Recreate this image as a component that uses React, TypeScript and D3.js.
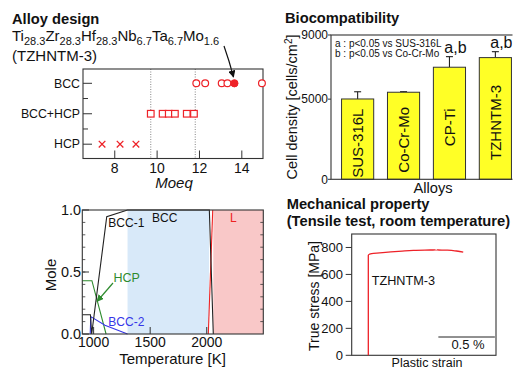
import React from "react";
import * as d3 from "d3";

const FONT = "'Liberation Sans', Arial, Helvetica, sans-serif";
const RED = "#ee2228";
const INK = "#333";

// ---------- Alloy design ----------
const phaseLevels = ["HCP", "BCC+HCP", "BCC"];
const moeqTicks = [8, 10, 12, 14];
const moeqBoundaries = [9.7, 11.8];
const hcpMoeq = [7.4, 8.25, 9.0];
const dualMoeq = [9.7, 10.26, 10.55, 10.84, 11.4, 11.74];
const bccMoeq = [11.85, 12.27, 13.05, 13.32, 14.95];
const selectedMoeq = 13.65;
const formulaElements = ["Ti", "Zr", "Hf", "Nb", "Ta", "Mo"];
const formulaSubs = ["28.3", "28.3", "28.3", "6.7", "6.7", "1.6"];

// ---------- Biocompatibility ----------
const alloys = ["SUS-316L", "Co-Cr-Mo", "CP-Ti", "TZHNTM-3"];
const cellDensity = [5010, 5430, 6990, 7590];
const cellDensityErr = [450, 35, 660, 370];
const significance = ["", "", "a,b", "a,b"];
const cellTicks = [0, 5000, 9000];
const legendLines = ["a : p<0.05 vs SUS-316L", "b : p<0.05 vs Co-Cr-Mo"];

// ---------- Phase diagram ----------
const tempTicks = [1000, 1500, 2000];
const moleTicks = [0, 0.5, 1.0];
const bccRegion = [1300, 2020];
const liquidRegion = [2058, 2500];
const bcc1T = [900, 972, 983, 1116, 1300, 2023, 2058];
const bcc1M = [0.155, 0.155, 0.0, 0.946, 1.0, 1.0, 0.0];
const hcpT = [900, 985, 1110];
const hcpM = [0.43, 0.43, 0.0];
const bcc2T = [970, 975, 1100, 1300];
const bcc2M = [0.0, 0.14, 0.07, 0.0];
const liquidT = [2014, 2053];
const liquidM = [0.0, 1.0];

// ---------- Tensile ----------
const stressTicks = [0, 200, 400, 600, 800];
const strainPct = [0, 0, 0.01, 0.03, 0.1, 0.2, 0.3, 0.4, 0.5, 0.6, 0.7, 0.78, 0.84];
const trueStress = [0, 742, 750, 755, 760, 767, 773, 778, 781, 782, 780, 774, 766];
const scaleBar = [0.62, 1.12];

export default function App() {
  // Alloy design scales
  const ax = d3.scaleLinear().domain([6.5, 15]).range([83, 263]);
  const ay = d3.scaleLinear().domain([-0.47, 2.47]).range([158.5, 69]);
  const lvl = (name: string) => ay(phaseLevels.indexOf(name));

  // Bio scales
  const bx = d3.scaleBand<string>().domain(alloys).range([331, 522]).paddingInner(0.3).paddingOuter(0.23);
  const by = d3.scaleLinear().domain([0, 9000]).range([179.3, 35]);

  // Phase scales
  const px = d3.scaleLinear().domain([900, 2500]).range([82.3, 263.3]);
  const py = d3.scaleLinear().domain([0, 1]).range([334, 210]);
  const pline = d3
    .line<[number, number]>()
    .x((d) => px(d[0]))
    .y((d) => py(d[1]));
  const zip = (a: number[], b: number[]) => a.map((v, i) => [v, b[i]] as [number, number]);

  // Tensile scales
  const tx = d3.scaleLinear().domain([-0.147, 1.13]).range([351.7, 496]);
  const ty = d3.scaleLinear().domain([0, 900]).range([355.3, 234]);
  const tline = d3
    .line<[number, number]>()
    .x((d) => tx(d[0]))
    .y((d) => ty(d[1]))
    .curve(d3.curveMonotoneY);
  const tensile = zip(strainPct, trueStress);

  const cross = (cx: number, cy: number, s: number) =>
    `M${cx - s},${cy - s}L${cx + s},${cy + s}M${cx - s},${cy + s}L${cx + s},${cy - s}`;

  return (
    <svg
      width={513}
      height={369}
      style={{ position: "absolute", left: 0, top: 0, background: "#fff" }}
      fontFamily={FONT}
    >
      <defs>
        <marker id="ahBlack" viewBox="0 0 10 10" refX="9" refY="5" markerWidth="6" markerHeight="6" orient="auto">
          <path d="M0,0L10,5L0,10z" fill="#111" />
        </marker>
        <marker id="ahGreen" viewBox="0 0 10 10" refX="9" refY="5" markerWidth="6" markerHeight="6" orient="auto">
          <path d="M0,0L10,5L0,10z" fill="#2e8b2e" />
        </marker>
        <clipPath id="bioClip">
          <rect x={0} y={0} width={512.5} height={369} />
        </clipPath>
      </defs>

      {/* ================= Alloy design ================= */}
      <text x={12} y={24} fontSize={14.7} fontWeight="bold" fill="#111">
        Alloy design
      </text>
      <text x={12} y={41} fontSize={15} fill="#111">
        {formulaElements.map((el, i) => (
          <React.Fragment key={el}>
            <tspan dy={i === 0 ? 0 : -4} fontSize={15}>
              {el}
            </tspan>
            <tspan dy={4} fontSize={11}>
              {formulaSubs[i]}
            </tspan>
          </React.Fragment>
        ))}
      </text>
      <text x={12} y={61} fontSize={15} fill="#111">
        (TZHNTM-3)
      </text>
      <path d="M224,46 Q229,60 233.5,77" fill="none" stroke="#111" strokeWidth={1.2} markerEnd="url(#ahBlack)" />

      {moeqBoundaries.map((b) => (
        <line key={b} x1={ax(b)} x2={ax(b)} y1={69} y2={158.5} stroke="#777" strokeWidth={0.9} strokeDasharray="1,1.5" />
      ))}
      <rect x={83} y={69} width={180} height={89.5} fill="none" stroke={INK} strokeWidth={1.1} />
      {[0, 1, 2].map((v) => (
        <line key={v} x1={83} x2={92} y1={ay(v)} y2={ay(v)} stroke={INK} strokeWidth={1} />
      ))}
      {[0.5, 1.5].map((v) => (
        <line key={v} x1={83} x2={88} y1={ay(v)} y2={ay(v)} stroke={INK} strokeWidth={1} />
      ))}
      {phaseLevels.map((p, i) => (
        <text key={p} x={80} y={ay(i) + 4.3} fontSize={12.3} textAnchor="end" fill="#111">
          {p}
        </text>
      ))}
      {moeqTicks.map((t) => (
        <g key={t}>
          <line x1={ax(t)} x2={ax(t)} y1={158.5} y2={150.5} stroke={INK} strokeWidth={1} />
          <text x={ax(t)} y={172.5} fontSize={14} textAnchor="middle" fill="#111">
            {t}
          </text>
        </g>
      ))}
      <text x={ax(10.8)} y={188} fontSize={15} fontStyle="italic" textAnchor="middle" fill="#111">
        Moeq
      </text>
      {hcpMoeq.map((v, i) => (
        <path key={i} d={cross(ax(v), lvl("HCP"), 3.3)} stroke={RED} strokeWidth={1.3} fill="none" />
      ))}
      {dualMoeq.map((v, i) => (
        <rect key={i} x={ax(v) - 3.3} y={lvl("BCC+HCP") - 3.3} width={6.6} height={6.6} fill="#fff" stroke={RED} strokeWidth={1.2} />
      ))}
      {bccMoeq.map((v, i) => (
        <circle key={i} cx={ax(v)} cy={lvl("BCC")} r={3.4} fill="#fff" stroke={RED} strokeWidth={1.2} />
      ))}
      <circle cx={ax(selectedMoeq)} cy={lvl("BCC")} r={3.6} fill={RED} stroke={RED} strokeWidth={1} />

      {/* ================= Biocompatibility ================= */}
      <text x={285} y={23.3} fontSize={14.7} fontWeight="bold" fill="#111">
        Biocompatibility
      </text>
      <g clipPath="url(#bioClip)">
        {alloys.map((a, i) => {
          const x0 = bx(a) as number;
          const w = bx.bandwidth();
          const top = by(cellDensity[i]);
          const errTop = by(cellDensity[i] + cellDensityErr[i]);
          const cx = x0 + w / 2;
          const midY = (top + by(0)) / 2 + 4;
          return (
            <g key={a}>
              <line x1={cx} x2={cx} y1={top} y2={errTop} stroke="#222" strokeWidth={1.1} />
              <line x1={cx - 3.5} x2={cx + 3.5} y1={errTop} y2={errTop} stroke="#222" strokeWidth={1.1} />
              <rect x={x0} y={top} width={w} height={by(0) - top} fill="#ffff26" stroke="#333" strokeWidth={1} />
              <text
                transform={`translate(${cx + 5.3},${midY}) rotate(-90)`}
                fontSize={15}
                textAnchor="middle"
                fill="#111"
              >
                {a}
              </text>
              {significance[i] && (
                <text x={cx + 6} y={errTop - 4} fontSize={16} textAnchor="middle" fill="#111">
                  {significance[i]}
                </text>
              )}
            </g>
          );
        })}
        <rect x={331} y={35} width={191} height={144.3} fill="none" stroke={INK} strokeWidth={1.1} />
      </g>
      {cellTicks.map((t) => (
        <g key={t}>
          <line x1={328} x2={331} y1={by(t)} y2={by(t)} stroke={INK} strokeWidth={1} />
          <text x={328} y={by(t) + 4.3} fontSize={12} textAnchor="end" fill="#111">
            {t}
          </text>
        </g>
      ))}
      {legendLines.map((l, i) => (
        <text key={l} x={335} y={46.5 + i * 10} fontSize={10} fill="#111">
          {l}
        </text>
      ))}
      <text transform="translate(297,107) rotate(-90)" fontSize={14.5} textAnchor="middle" fill="#111">
        Cell density [cells/cm<tspan dy={-5} fontSize={10}>2</tspan>
        <tspan dy={5}>]</tspan>
      </text>
      <text x={433} y={193} fontSize={14.7} textAnchor="middle" fill="#111">
        Alloys
      </text>

      {/* ================= Phase diagram ================= */}
      <rect x={px(bccRegion[0])} y={210} width={px(bccRegion[1]) - px(bccRegion[0])} height={124} fill="#d8e9f9" />
      <rect x={px(liquidRegion[0])} y={210} width={px(liquidRegion[1]) - px(liquidRegion[0])} height={124} fill="#f9c8c8" />
      <path d={pline(zip(hcpT, hcpM)) || ""} fill="none" stroke="#2e8b2e" strokeWidth={1.1} />
      <path d={pline(zip(bcc2T, bcc2M)) || ""} fill="none" stroke="#3535e8" strokeWidth={1.1} />
      <path d={pline(zip(liquidT, liquidM)) || ""} fill="none" stroke="#ee2222" strokeWidth={1.1} />
      <path d={pline(zip(bcc1T, bcc1M)) || ""} fill="none" stroke="#222" strokeWidth={1.1} />
      <rect x={82.3} y={210} width={181} height={124} fill="none" stroke={INK} strokeWidth={1.1} />
      {d3.range(0.1, 1.0, 0.1).map((v) => (
        <g key={v}>
          <line x1={82.3} x2={85.3} y1={py(v)} y2={py(v)} stroke={INK} strokeWidth={0.8} />
          <line x1={263.3} x2={260.3} y1={py(v)} y2={py(v)} stroke={INK} strokeWidth={0.8} />
        </g>
      ))}
      {moleTicks.map((t) => (
        <g key={t}>
          <line x1={82.3} x2={89} y1={py(t)} y2={py(t)} stroke={INK} strokeWidth={1} />
          <text x={81} y={py(t) + 5} fontSize={14.4} textAnchor="end" fill="#111">
            {t.toFixed(1)}
          </text>
        </g>
      ))}
      {tempTicks.map((t) => (
        <g key={t}>
          <line x1={px(t)} x2={px(t)} y1={334} y2={327} stroke={INK} strokeWidth={1} />
          <text x={px(t)} y={347} fontSize={14} textAnchor="middle" fill="#111">
            {t}
          </text>
        </g>
      ))}
      <text transform="translate(56,275) rotate(-90)" fontSize={15} textAnchor="middle" fill="#111">
        Mole
      </text>
      <text x={172.5} y={364} fontSize={15} textAnchor="middle" fill="#111">
        Temperature [K]
      </text>
      <text x={108.3} y={226.5} fontSize={12} fill="#111">
        BCC-1
      </text>
      <text x={152} y={221.5} fontSize={12} fill="#111">
        BCC
      </text>
      <text x={230} y={221.5} fontSize={12} fill="#ee2222">
        L
      </text>
      <text x={113.5} y={281.5} fontSize={12.5} fill="#2e8b2e">
        HCP
      </text>
      <line x1={113} x2={97} y1={283} y2={301.5} stroke="#2e8b2e" strokeWidth={1.2} markerEnd="url(#ahGreen)" />
      <text x={108.3} y={325.5} fontSize={12} fill="#3535e8">
        BCC-2
      </text>

      {/* ================= Tensile ================= */}
      <text x={286.7} y={209} fontSize={14.7} fontWeight="bold" fill="#111">
        Mechanical property
      </text>
      <text x={286.7} y={226} fontSize={14.7} fontWeight="bold" fill="#111">
        (Tensile test, room temperature)
      </text>
      <rect x={351.7} y={234} width={144.3} height={121.3} fill="none" stroke={INK} strokeWidth={1.1} />
      {stressTicks.map((t) => (
        <g key={t}>
          <line x1={345.7} x2={351.7} y1={ty(t)} y2={ty(t)} stroke={INK} strokeWidth={1} />
          <text x={343} y={ty(t) + 4.5} fontSize={13} textAnchor="end" fill="#111">
            {t}
          </text>
        </g>
      ))}
      <path d={tline(tensile) || ""} fill="none" stroke={RED} strokeWidth={1.3} />
      <line x1={tx(scaleBar[0])} x2={tx(scaleBar[1])} y1={337} y2={337} stroke="#222" strokeWidth={1} />
      <text x={468} y={349} fontSize={13} textAnchor="middle" fill="#111">
        0.5 %
      </text>
      <text x={371.7} y={285} fontSize={12.7} fill="#111">
        TZHNTM-3
      </text>
      <text transform="translate(319,296) rotate(-90)" fontSize={14} textAnchor="middle" fill="#111">
        True stress [MPa]
      </text>
      <text x={427} y={367} fontSize={12.5} textAnchor="middle" fill="#111">
        Plastic strain
      </text>
    </svg>
  );
}
